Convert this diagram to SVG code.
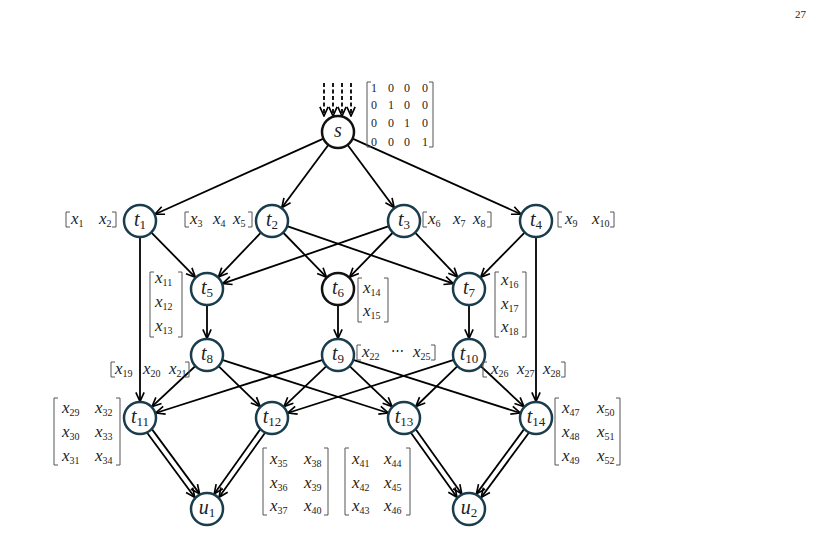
<svg xmlns="http://www.w3.org/2000/svg" width="816" height="560" viewBox="0 0 816 560" font-family="'Liberation Serif', 'Times New Roman', serif">
<defs>
<marker id="ar" viewBox="0 0 12 12" refX="11" refY="6" markerWidth="11" markerHeight="11" markerUnits="userSpaceOnUse" orient="auto">
<path d="M1,1.5 L11,6 L1,10.5" fill="none" stroke="#000" stroke-width="1.8" stroke-dasharray="none"/>
</marker>
</defs>
<style>
.e line{stroke:#000;stroke-width:1.8;fill:none;marker-end:url(#ar)}
.e .d{stroke-dasharray:4 2.5}
.n circle{fill:#fff;stroke:#1a3d4d;stroke-width:2.5}
.n circle.k{stroke:#111}
text{font-family:"Liberation Serif","Times New Roman",serif;fill:#222}
.lb{font-size:20px;font-style:italic;text-anchor:middle}
.ls{font-size:13px;font-style:normal}
.m text{font-size:17px;font-style:italic}
.m tspan.s{font-size:10px;font-style:normal}
.br{fill:none;stroke:#555;stroke-width:1}
.id text{font-size:12px;text-anchor:middle;font-style:normal}
</style>
<rect width="816" height="560" fill="#fff"/>
<text x="795" y="18" font-size="11">27</text>

<g id="connectors" class="e">
<line class="d" x1="324" y1="83" x2="324" y2="116"/>
<line class="d" x1="333" y1="83" x2="333" y2="116"/>
<line class="d" x1="342" y1="83" x2="342" y2="116"/>
<line class="d" x1="351" y1="83" x2="351" y2="116"/>
<line x1="323.4" y1="138.6" x2="155" y2="214.2"/>
<line x1="328.5" y1="144.8" x2="281.8" y2="207.7"/>
<line x1="347.5" y1="144.8" x2="394.2" y2="207.7"/>
<line x1="352.6" y1="138.6" x2="521" y2="214.2"/>
<line x1="151.2" y1="232.4" x2="195.4" y2="277.3"/>
<line x1="260.9" y1="232.6" x2="218.4" y2="277.1"/>
<line x1="388.9" y1="226.2" x2="222.6" y2="283.6"/>
<line x1="283.1" y1="232.5" x2="326.5" y2="277.2"/>
<line x1="392.9" y1="232.5" x2="349.5" y2="277.2"/>
<line x1="287.1" y1="226.2" x2="453.4" y2="283.6"/>
<line x1="415.1" y1="232.6" x2="457.6" y2="277.1"/>
<line x1="524.8" y1="232.4" x2="480.6" y2="277.3"/>
<line x1="140" y1="237" x2="140" y2="401.5"/>
<line x1="536" y1="237" x2="536" y2="401.5"/>
<line x1="207" y1="305" x2="207" y2="338.5"/>
<line x1="338" y1="305" x2="338" y2="338.5"/>
<line x1="469" y1="305" x2="469" y2="338.5"/>
<line x1="195.4" y1="366" x2="152" y2="406.7"/>
<line x1="218.5" y1="366.1" x2="260.2" y2="406.5"/>
<line x1="222.2" y1="359.9" x2="388.3" y2="413"/>
<line x1="322.8" y1="359.8" x2="155.7" y2="413"/>
<line x1="326.4" y1="366.1" x2="283.9" y2="406.6"/>
<line x1="349.6" y1="366.1" x2="392.1" y2="406.6"/>
<line x1="353.2" y1="359.8" x2="520.3" y2="413"/>
<line x1="453.8" y1="359.9" x2="287.7" y2="413"/>
<line x1="457.5" y1="366.1" x2="415.8" y2="406.5"/>
<line x1="480.6" y1="366" x2="524" y2="406.7"/>
<line x1="151.9" y1="429.1" x2="199.6" y2="493.9"/>
<line x1="147.1" y1="432.7" x2="194.8" y2="497.5"/>
<line x1="265.1" y1="432.7" x2="219" y2="497.3"/>
<line x1="260.3" y1="429.3" x2="214.2" y2="493.9"/>
<line x1="410.9" y1="432.7" x2="457" y2="497.3"/>
<line x1="415.7" y1="429.3" x2="461.8" y2="493.9"/>
<line x1="524.1" y1="429.1" x2="476.4" y2="493.9"/>
<line x1="528.9" y1="432.7" x2="481.2" y2="497.5"/>
</g>

<g id="s" class="n">
<circle class="k" cx="338" cy="132" r="16"/>
<text class="lb" x="338" y="137">s</text>
<g class="id">
<path class="br" d="M371,82 H367 V147 H371 M429,82 H433 V147 H429"/>
<text x="374" y="92">1</text><text x="391" y="92">0</text><text x="407" y="92">0</text><text x="425" y="92">0</text>
<text x="374" y="109">0</text><text x="391" y="109">1</text><text x="407" y="109">0</text><text x="425" y="109">0</text>
<text x="374" y="127">0</text><text x="391" y="127">0</text><text x="407" y="127">1</text><text x="425" y="127">0</text>
<text x="374" y="146">0</text><text x="391" y="146">0</text><text x="407" y="146">0</text><text x="425" y="146">1</text>
</g>
</g>

<g id="t1" class="n">
<circle cx="140" cy="221" r="16"/>
<text class="lb" x="140" y="226">t<tspan class="ls" dy="3">1</tspan></text>
<g class="m">
<path class="br" d="M70,212 H66 V227 H70 M112,212 H116 V227 H112"/>
<text x="71" y="224">x<tspan class="s" dy="3">1</tspan></text>
<text x="99" y="224">x<tspan class="s" dy="3">2</tspan></text>
</g>
</g>

<g id="t2" class="n">
<circle cx="272" cy="221" r="16"/>
<text class="lb" x="272" y="226">t<tspan class="ls" dy="3">2</tspan></text>
<g class="m">
<path class="br" d="M189,212 H185 V227 H189 M248,212 H252 V227 H248"/>
<text x="190" y="224">x<tspan class="s" dy="3">3</tspan></text>
<text x="213" y="224">x<tspan class="s" dy="3">4</tspan></text>
<text x="233" y="224">x<tspan class="s" dy="3">5</tspan></text>
</g>
</g>

<g id="t3" class="n">
<circle cx="404" cy="221" r="16"/>
<text class="lb" x="404" y="226">t<tspan class="ls" dy="3">3</tspan></text>
<g class="m">
<path class="br" d="M427,212 H423 V227 H427 M487,212 H491 V227 H487"/>
<text x="428" y="224">x<tspan class="s" dy="3">6</tspan></text>
<text x="453" y="224">x<tspan class="s" dy="3">7</tspan></text>
<text x="473" y="224">x<tspan class="s" dy="3">8</tspan></text>
</g>
</g>

<g id="t4" class="n">
<circle cx="536" cy="221" r="16"/>
<text class="lb" x="536" y="226">t<tspan class="ls" dy="3">4</tspan></text>
<g class="m">
<path class="br" d="M562,212 H558 V227 H562 M610,212 H614 V227 H610"/>
<text x="565" y="224">x<tspan class="s" dy="3">9</tspan></text>
<text x="592" y="224">x<tspan class="s" dy="3">10</tspan></text>
</g>
</g>

<g id="t5" class="n">
<circle cx="207" cy="289" r="16"/>
<text class="lb" x="207" y="294">t<tspan class="ls" dy="3">5</tspan></text>
<g class="m">
<path class="br" d="M154,272 H150 V337 H154 M178,272 H182 V337 H178"/>
<text x="155" y="283">x<tspan class="s" dy="3">11</tspan></text>
<text x="155" y="307">x<tspan class="s" dy="3">12</tspan></text>
<text x="155" y="331">x<tspan class="s" dy="3">13</tspan></text>
</g>
</g>

<g id="t6" class="n">
<circle class="k" cx="338" cy="289" r="16"/>
<text class="lb" x="338" y="294">t<tspan class="ls" dy="3">6</tspan></text>
<g class="m">
<path class="br" d="M362,278 H358 V322 H362 M384,278 H388 V322 H384"/>
<text x="363" y="293">x<tspan class="s" dy="3">14</tspan></text>
<text x="363" y="316">x<tspan class="s" dy="3">15</tspan></text>
</g>
</g>

<g id="t7" class="n">
<circle cx="469" cy="289" r="16"/>
<text class="lb" x="469" y="294">t<tspan class="ls" dy="3">7</tspan></text>
<g class="m">
<path class="br" d="M499,272 H495 V337 H499 M522,272 H526 V337 H522"/>
<text x="501" y="285">x<tspan class="s" dy="3">16</tspan></text>
<text x="501" y="309">x<tspan class="s" dy="3">17</tspan></text>
<text x="501" y="332">x<tspan class="s" dy="3">18</tspan></text>
</g>
</g>

<g id="t8" class="n">
<circle cx="207" cy="355" r="16"/>
<text class="lb" x="207" y="360">t<tspan class="ls" dy="3">8</tspan></text>
<g class="m">
<path class="br" d="M115,362 H111 V377 H115 M185,362 H189 V377 H185"/>
<text x="115" y="374">x<tspan class="s" dy="3">19</tspan></text>
<text x="143" y="374">x<tspan class="s" dy="3">20</tspan></text>
<text x="169" y="374">x<tspan class="s" dy="3">21</tspan></text>
</g>
</g>

<g id="t9" class="n">
<circle cx="338" cy="355" r="16"/>
<text class="lb" x="338" y="360">t<tspan class="ls" dy="3">9</tspan></text>
<g class="m">
<path class="br" d="M361,345 H357 V360 H361 M431,345 H435 V360 H431"/>
<text x="362" y="357">x<tspan class="s" dy="3">22</tspan></text>
<text x="391" y="355" style="font-style:normal;font-size:13px">⋯</text>
<text x="413" y="357">x<tspan class="s" dy="3">25</tspan></text>
</g>
</g>

<g id="t10" class="n">
<circle cx="469" cy="355" r="16"/>
<text class="lb" x="469" y="360">t<tspan class="ls" dy="3">10</tspan></text>
<g class="m">
<path class="br" d="M487,362 H483 V377 H487 M561,362 H565 V377 H561"/>
<text x="491" y="374">x<tspan class="s" dy="3">26</tspan></text>
<text x="517" y="374">x<tspan class="s" dy="3">27</tspan></text>
<text x="543" y="374">x<tspan class="s" dy="3">28</tspan></text>
</g>
</g>

<g id="t11" class="n">
<circle cx="140" cy="418" r="16"/>
<text class="lb" x="140" y="423">t<tspan class="ls" dy="3">11</tspan></text>
<g class="m">
<path class="br" d="M58,398 H54 V465 H58 M116,398 H120 V465 H116"/>
<text x="62" y="413">x<tspan class="s" dy="3">29</tspan></text>
<text x="95" y="413">x<tspan class="s" dy="3">32</tspan></text>
<text x="62" y="437">x<tspan class="s" dy="3">30</tspan></text>
<text x="95" y="437">x<tspan class="s" dy="3">33</tspan></text>
<text x="62" y="461">x<tspan class="s" dy="3">31</tspan></text>
<text x="95" y="461">x<tspan class="s" dy="3">34</tspan></text>
</g>
</g>

<g id="t12" class="n">
<circle cx="272" cy="418" r="16"/>
<text class="lb" x="272" y="423">t<tspan class="ls" dy="3">12</tspan></text>
<g class="m">
<path class="br" d="M267,448 H263 V515 H267 M324,448 H328 V515 H324"/>
<text x="270" y="464">x<tspan class="s" dy="3">35</tspan></text>
<text x="304" y="464">x<tspan class="s" dy="3">38</tspan></text>
<text x="270" y="488">x<tspan class="s" dy="3">36</tspan></text>
<text x="304" y="488">x<tspan class="s" dy="3">39</tspan></text>
<text x="270" y="511">x<tspan class="s" dy="3">37</tspan></text>
<text x="304" y="511">x<tspan class="s" dy="3">40</tspan></text>
</g>
</g>

<g id="t13" class="n">
<circle cx="404" cy="418" r="16"/>
<text class="lb" x="404" y="423">t<tspan class="ls" dy="3">13</tspan></text>
<g class="m">
<path class="br" d="M349,448 H345 V515 H349 M406,448 H410 V515 H406"/>
<text x="352" y="464">x<tspan class="s" dy="3">41</tspan></text>
<text x="384" y="464">x<tspan class="s" dy="3">44</tspan></text>
<text x="352" y="488">x<tspan class="s" dy="3">42</tspan></text>
<text x="384" y="488">x<tspan class="s" dy="3">45</tspan></text>
<text x="352" y="511">x<tspan class="s" dy="3">43</tspan></text>
<text x="384" y="511">x<tspan class="s" dy="3">46</tspan></text>
</g>
</g>

<g id="t14" class="n">
<circle cx="536" cy="418" r="16"/>
<text class="lb" x="536" y="423">t<tspan class="ls" dy="3">14</tspan></text>
<g class="m">
<path class="br" d="M559,398 H555 V465 H559 M616,398 H620 V465 H616"/>
<text x="562" y="413">x<tspan class="s" dy="3">47</tspan></text>
<text x="597" y="413">x<tspan class="s" dy="3">50</tspan></text>
<text x="562" y="437">x<tspan class="s" dy="3">48</tspan></text>
<text x="597" y="437">x<tspan class="s" dy="3">51</tspan></text>
<text x="562" y="461">x<tspan class="s" dy="3">49</tspan></text>
<text x="597" y="461">x<tspan class="s" dy="3">52</tspan></text>
</g>
</g>

<g id="u1" class="n">
<circle cx="207" cy="509" r="16"/>
<text class="lb" x="207" y="514">u<tspan class="ls" dy="3">1</tspan></text>
</g>

<g id="u2" class="n">
<circle cx="469" cy="509" r="16"/>
<text class="lb" x="469" y="514">u<tspan class="ls" dy="3">2</tspan></text>
</g>
</svg>
